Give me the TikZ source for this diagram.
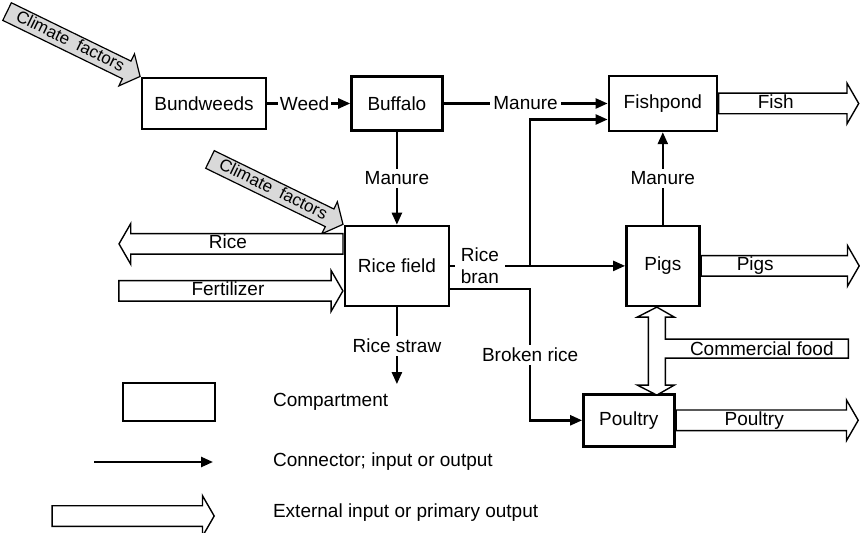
\documentclass[tikz,border=0pt]{standalone}
\usepackage{fontspec}
\setmainfont{Liberation Sans}
\usepackage{tikz}
\usetikzlibrary{positioning, arrows.meta, calc, shapes.arrows}

\begin{document}
\begin{tikzpicture}[
  x=0.5pt, y=-0.5pt,
  every node/.style={font=\fontsize{9.5}{11}\selectfont},
  box/.style={draw, line width=1.2pt, align=center},
  arr/.style={-{Triangle[length=6pt, width=5pt]}, line width=1.2pt},
  lab/.style={fill=white, inner sep=1.5pt},
  bigarrow/.style={single arrow, draw, line width=0.7pt, fill=white,
    single arrow head extend=5pt, single arrow tip angle=120,
    inner xsep=2pt, inner ysep=0.5pt, text height=6.8pt, text depth=1.8pt},
  climate/.style={single arrow, draw, line width=0.6pt, fill=gray!30,
    single arrow head extend=4pt, single arrow tip angle=100,
    inner ysep=0.8pt, minimum height=74pt, rotate=-26, anchor=tip,
    font=\fontsize{8.5}{10}\selectfont, text height=6pt, text depth=1.6pt}
]
  \useasboundingbox (0,0) rectangle (860,533);

  % Compartments
  \node[box, minimum width=62pt, minimum height=25.5pt] (bund) at (204,103.5) {Bundweeds};
  \node[box, right=41.5pt of bund, minimum width=45.5pt, minimum height=27pt] (buff) {Buffalo};
  \node[box, right=82pt of buff, minimum width=54pt, minimum height=27.5pt] (fish) {Fishpond};
  \node[box, below=46.5pt of buff, minimum width=52pt, minimum height=40pt] (rice) {Rice field};
  \node[box, minimum width=36.5pt, minimum height=40pt] (pigs) at (fish |- rice) {Pigs};
  \node[box, below=43pt of pigs, xshift=-17pt, minimum width=45.5pt,
    minimum height=26pt] (poul) {Poultry};

  % Climate inputs
  \node[climate] (clim1) at (bund.north west) {Climate\ \ factors};
  \node[climate] (clim2) at (rice.north west) {Climate\ \ factors};

  % External inputs and primary outputs
  \node[bigarrow, anchor=tail, minimum height=70pt] (fisharr) at (fish.east)
    {Fish\hspace*{10pt}};
  \node[bigarrow, anchor=tail, minimum height=79pt] (pigsarr) at (pigs.east)
    {Pigs\hspace*{22pt}};
  \node[bigarrow, anchor=tail, minimum height=91pt] (poularr) at (poul.east)
    {Poultry\hspace*{10pt}};
  \node[bigarrow, shape border rotate=180, anchor=tail, minimum height=112pt]
    (ricearr) at ([yshift=11pt]rice.west) {Rice\hspace*{6pt}};
  \node[bigarrow, anchor=tip, minimum height=112pt]
    (fertarr) at ([yshift=-12.5pt]rice.west) {Fertilizer};

  % Commercial food, split to pigs and poultry
  \coordinate (cf) at ([xshift=-3pt]pigs.south);
  \draw[line width=0.7pt, fill=white] (cf) -- ++(17.5,10) -- ++(-9,0) -- ++(0,22)
    -- ++(183,0) -- ++(0,19) -- ++(-183,0) -- ++(0,27) -- ++(9,0)
    -- ++(-17.5,10) -- ++(-19.5,-10) -- ++(11,0) -- ++(0,-68) -- ++(-11,0) -- cycle;
  \node (cftext) at ($(cf)+(105,42)$) {Commercial food};

  % Connectors
  \draw[arr] (bund) -- node[lab, inner sep=1pt, pos=0.45] {Weed} (buff);
  \draw[arr] (buff.east) -- node[lab] {Manure} (buff.east -| fish.west);
  \draw[arr] (buff.south) -- node[lab] {Manure} (buff.south |- rice.north);
  \draw[arr] (pigs.north) -- node[lab] {Manure} (pigs.north |- fish.south);
  \coordinate (jn) at ([xshift=40pt]rice.east);
  \draw[arr] (rice.east) -- node[lab, pos=0.17, align=left, inner sep=3pt]
    {Rice\\bran} (pigs.west);
  \draw[arr] (jn) |- ([yshift=-8pt]fish.west);
  \draw[arr] ([yshift=-11.5pt]rice.east) -| node[lab, pos=0.75] {Broken rice}
    (jn |- poul.west) -- (poul.west);
  \coordinate (straw) at ([yshift=-38.5pt]rice.south);
  \draw[arr] (rice.south) -- node[lab] {Rice straw} (straw);

  % Legend
  \node[box, line width=0.8pt, minimum width=46pt, minimum height=19pt] (legbox) at (169,402) {};
  \node[anchor=west] (legboxtxt) at (266,402) {Compartment};
  \coordinate (legA) at (94,462);
  \coordinate (legB) at (213,462);
  \draw[arr] (legA) -- (legB);
  \node[anchor=west] (legarrtxt) at (266,462) {Connector; input or output};
  \node[bigarrow, anchor=tip, minimum height=81pt] (legbig) at (215,516) {};
  \node[anchor=west] (legbigtxt) at (266,513) {External input or primary output};
\end{tikzpicture}
\end{document}
